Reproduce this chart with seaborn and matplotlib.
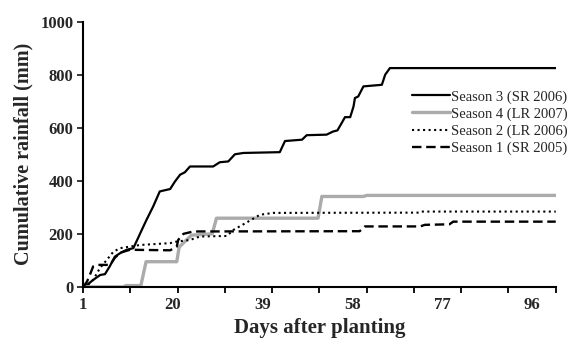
import numpy as np
import pandas as pd
import matplotlib
matplotlib.use("Agg")
import matplotlib.pyplot as plt
import seaborn as sns

# cumulative rainfall (mm), as (day, value) break points
s3_days = [1, 2, 3, 4.6, 5.6, 6.6, 7.7, 8.8, 10.2, 11.6, 12.6, 13.4, 14.4, 15.8, 17.2, 19.4,
           20.4, 21.5, 22.5, 23.6, 28.5, 29.9, 31.7, 33.1, 34.9, 42.6, 43.7, 47.3, 48.3, 52.5,
           53.9, 54.8, 55.7, 56.4, 57.5, 58.2, 58.5, 59.2, 60.3, 64.2, 64.9, 65.9, 101]
s3_mm = [0, 10, 25, 45, 48, 77, 114, 127, 140, 146, 184, 215, 253, 303, 360, 369,
         397, 423, 432, 454, 454, 470, 473, 500, 505, 508, 550, 555, 572, 574,
         586, 590, 618, 640, 640, 680, 712, 718, 756, 762, 800, 825, 825]

s4_days = [1, 9.5, 10, 13.2, 14.3, 20.8, 21.3, 23.9, 28.3, 29.2, 50.7, 51.5, 60.3, 61, 101]
s4_mm = [0, 0, 5, 5, 95, 95, 150, 195, 200, 259, 259, 341, 341, 345, 345]

s2_days = [1, 2, 3.1, 4.5, 6, 7.4, 8.8, 13, 19.4, 20.5, 23.6, 25.7, 31.4, 32.8, 35.6,
           38.4, 41.2, 72, 72.5, 101]
s2_mm = [0, 8, 26, 70, 102, 133, 146, 158, 165, 170, 177, 190, 192, 215, 243,
         272, 279, 280, 284, 284]

s1_days = [1, 1.8, 2.4, 3.1, 4.2, 6.7, 7.7, 9, 10.9, 19.4, 20.8, 21.1, 22.2, 24.3, 59.5,
           60.6, 72.3, 73.3, 78.5, 79.3, 101]
s1_mm = [0, 20, 45, 77, 83, 83, 110, 130, 140, 138, 152, 177, 200, 209, 210,
         228, 228, 234, 236, 246, 246]

names = ["Season 3 (SR 2006)", "Season 4 (LR 2007)", "Season 2 (LR 2006)", "Season 1 (SR 2005)"]
label_days = [1, 20, 39, 58, 77, 96]

sns.set_style("ticks")
plt.rcParams['font.family'] = ['Liberation Serif', 'DejaVu Serif']

fig = plt.figure(figsize=(5.7, 3.44), dpi=100)
ax = fig.add_axes([0.146, 0.166, 0.829, 0.771])

series = [(s3_days, s3_mm, "black", "-", 1.6),
          (s4_days, s4_mm, "#ababab", "-", 2.4),
          (s2_days, s2_mm, "black", ":", 1.5),
          (s1_days, s1_mm, "black", (0, (4, 2)), 1.7)]
for (d, v, c, ls, lw), name in zip(series, names):
    df = pd.DataFrame({"day": d, "mm": v})
    sns.lineplot(data=df, x="day", y="mm", ax=ax, color=c, linestyle=ls, linewidth=lw,
                 label=name, estimator=None, sort=False)

ax.set_xlim(1, 101)
ax.set_ylim(0, 1000)
ax.set_yticks(range(0, 1001, 200))
ax.xaxis.remove_overlapping_locs = False
ax.set_xticks(range(1, 102, 10))
ax.set_xticklabels([])
ax.set_xticks(label_days, minor=True)
ax.set_xticklabels([str(d) for d in label_days], minor=True)
ax.tick_params(axis="x", which="minor", length=0, pad=7, labelsize=12)
ax.tick_params(axis="x", which="major", length=4, width=1.3, color="black")
ax.tick_params(axis="y", length=4, width=1.3, labelsize=12, pad=3)
for t in ax.get_yticklabels() + ax.get_xticklabels(minor=True):
    t.set_fontweight("bold")
for s in ["left", "bottom"]:
    ax.spines[s].set_linewidth(1.5)
    ax.spines[s].set_color("black")
sns.despine(ax=ax)

ax.set_xlabel("Days after planting", fontsize=15, fontweight="bold", labelpad=4)
ax.set_ylabel("Cumulative rainfall (mm)", fontsize=14.5, fontweight="bold", labelpad=5)

ax.legend(loc="upper left", bbox_to_anchor=(0.712, 0.755), bbox_transform=fig.transFigure,
          frameon=False, fontsize=10.5, handlelength=2.6, handletextpad=0.1,
          labelspacing=0.25, borderaxespad=0)

fig.savefig("out.png", dpi=100)
